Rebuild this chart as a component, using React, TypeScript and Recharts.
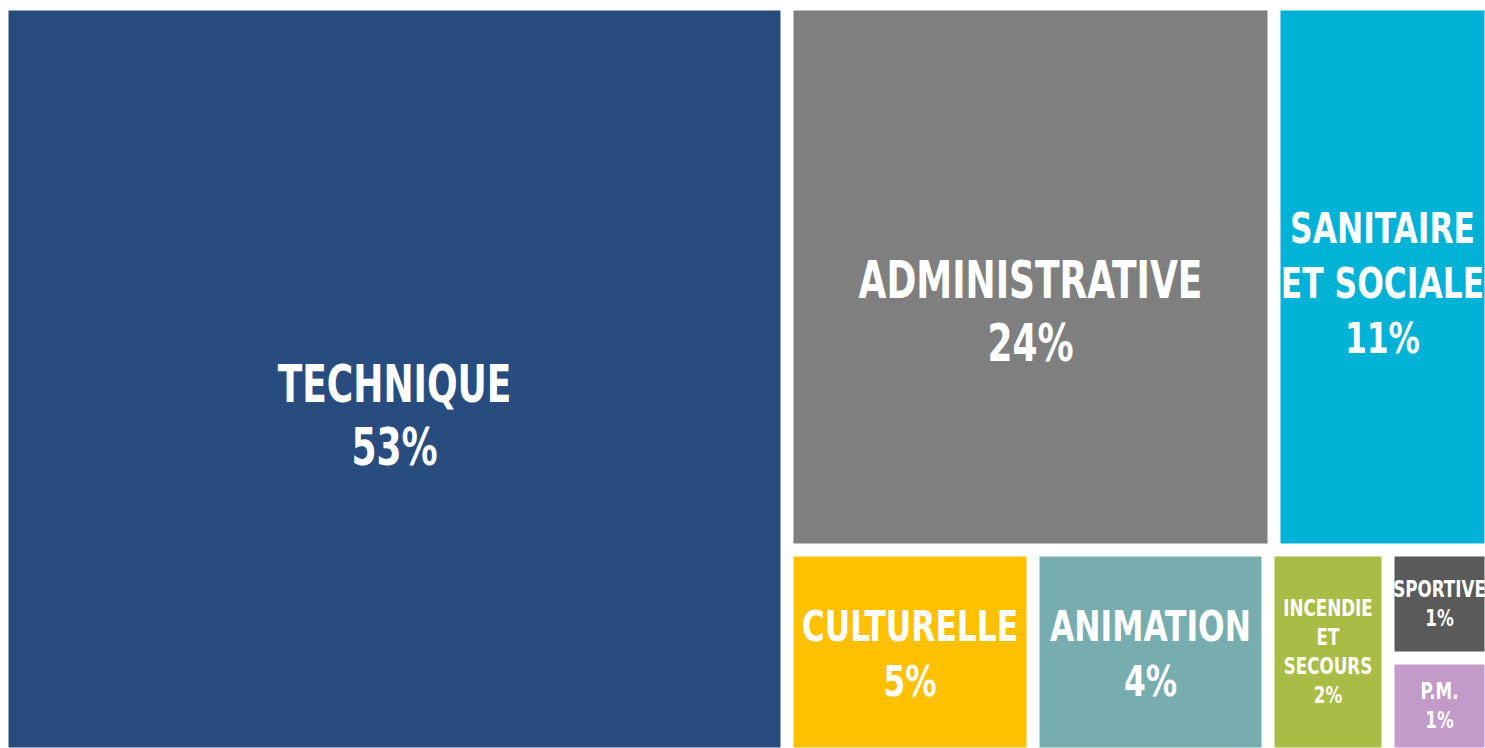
import { Treemap } from 'recharts'

// filières (part des agents, en %)
const categories = [
  'TECHNIQUE',
  'ADMINISTRATIVE',
  'SANITAIRE\nET SOCIALE',
  'CULTURELLE',
  'ANIMATION',
  'INCENDIE\nET\nSECOURS',
  'SPORTIVE',
  'P.M.',
]
const values = [52.7, 23.8, 10.6, 4.5, 4.3, 2.2, 1.0, 0.9]

const COLORS = ['#284C7E', '#7F7F7F', '#00B2D6', '#FFC000', '#77ADAE', '#A9BC45', '#5A5A5A', '#C39BC8']
const LABEL_SHIFT: Record<string, number> = { TECHNIQUE: 37, ADMINISTRATIVE: 35, SANITAIRE: 6 }
const GAP = 13
const FONT = '"DejaVu Sans Condensed", "DejaVu Sans", sans-serif'

const data = categories.map((name, i) => ({ name, value: values[i] }))

function Cell(props: any) {
  const { x, y, width, height, index, depth, name, value } = props
  if (depth !== 1) return null
  const lines = [...String(name).split('\n'), `${Math.round(value)}%`]
  // three label sizes depending on the cell width
  let fontSize = 23
  let lh = 29
  let sx = 0.81
  let shift = 0
  if (width > 400) {
    fontSize = 52
    lh = 63
    sx = 0.77
  } else if (width > 150) {
    fontSize = 42
    lh = 55
    sx = 0.83
    shift = 2
  }
  const cx = x + width / 2
  const cy = y + height / 2 + (LABEL_SHIFT[lines[0]] ?? shift)
  return (
    <g>
      <rect
        x={x + GAP / 2}
        y={y + GAP / 2}
        width={Math.max(0, width - GAP)}
        height={Math.max(0, height - GAP)}
        fill={COLORS[index % COLORS.length]}
        stroke="none"
      />
      {lines.map((l, i) => (
        <text
          key={i}
          x={0}
          y={0}
          transform={`translate(${cx} ${cy + (i - (lines.length - 1) / 2) * lh}) scale(${sx} 1)`}
          textAnchor="middle"
          dominantBaseline="central"
          fill="#FFFFFF"
          stroke="none"
          fontFamily={FONT}
          fontWeight="bold"
          fontSize={fontSize}
        >
          {l}
        </text>
      ))}
    </g>
  )
}

export default function App() {
  return (
    <div style={{ position: 'fixed', left: 0, top: 0, width: 1485, height: 748, overflow: 'hidden', background: '#fff' }}>
      <div style={{ position: 'absolute', left: 2, top: 4 }}>
        <Treemap
          width={1489}
          height={750}
          data={data}
          dataKey="value"
          nameKey="name"
          aspectRatio={1.2}
          isAnimationActive={false}
          content={<Cell />}
        />
      </div>
    </div>
  )
}
